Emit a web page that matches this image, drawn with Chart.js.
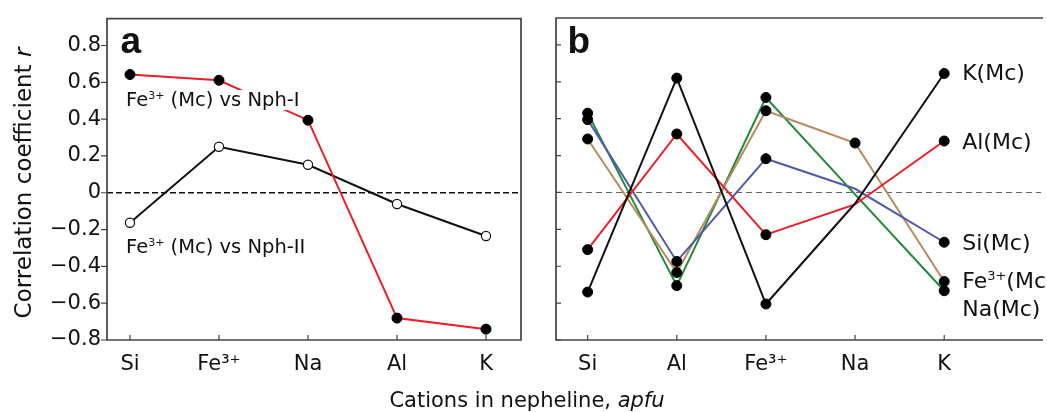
<!DOCTYPE html>
<html>
<head>
<meta charset="utf-8">
<script src="https://cdn.jsdelivr.net/npm/chart.js@4.4.1/dist/chart.umd.min.js"></script>
<style>
  body { margin: 0; background: #fff; }
  #wrap { position: relative; width: 1047px; height: 412px; overflow: hidden; font-family: 'DejaVu Sans', sans-serif; color: #111; }
  #chartA { position: absolute; left: 0; top: 0; }
  #chartB { position: absolute; left: 530px; top: 0; }
  #xTitle { position: absolute; left: 0; width: 1054px; top: 388px; line-height: 24px; text-align: center; font-size: 21px; }
</style>
</head>
<body>
<div id="wrap">
  <canvas id="chartA" width="530" height="412"></canvas>
  <canvas id="chartB" width="517" height="412"></canvas>
  <div id="xTitle">Cations in nepheline, <i>apfu</i></div>
</div>
<script>
Chart.defaults.font.family = "'DejaVu Sans', sans-serif";
Chart.defaults.color = '#111';

// cations along the x axes
const catsA = ['Si', 'Fe³⁺', 'Na', 'Al', 'K'];
const catsB = ['Si', 'Al', 'Fe³⁺', 'Na', 'K'];
const yTicks = [-0.8, -0.6, -0.4, -0.2, 0, 0.2, 0.4, 0.6, 0.8];

// a: Fe3+ (Mc) against the two nepheline generations
const nphI = [0.642, 0.611, 0.394, -0.681, -0.741];
const nphII = [-0.163, 0.250, 0.152, -0.061, -0.235];

// b: microcline cations against nepheline cations
const kMc = [-0.54, 0.62, -0.605, -0.06, 0.645];
const alMc = [-0.31, 0.317, -0.229, -0.065, 0.279];
const siMc = [0.395, -0.374, 0.183, 0.02, -0.27];
const feMc = [0.29, -0.434, 0.443, 0.268, -0.483];
const naMc = [0.43, -0.505, 0.515, -0.01, -0.533];

const FONT = "'DejaVu Sans', sans-serif";

function drawRich(ctx, parts, x, y, size, align) {
  const fontOf = p => (p.it ? 'italic ' : '') + (p.sup ? Math.round(size * 0.58) : size) + 'px ' + FONT;
  let w = 0;
  parts.forEach(p => { ctx.font = fontOf(p); w += ctx.measureText(p.t).width; });
  let cx = align === 'center' ? x - w / 2 : x;
  parts.forEach(p => {
    ctx.font = fontOf(p);
    ctx.fillText(p.t, cx, p.sup ? y - size * 0.36 : y);
    cx += ctx.measureText(p.t).width;
  });
  return w;
}

function measureRich(ctx, parts, size) {
  let w = 0;
  parts.forEach(p => {
    ctx.font = (p.it ? 'italic ' : '') + (p.sup ? Math.round(size * 0.58) : size) + 'px ' + FONT;
    w += ctx.measureText(p.t).width;
  });
  return w;
}

// box, inner/outer ticks and the dashed r = 0 line
function framePlugin(o) {
  return {
    id: 'frame',
    beforeDatasetsDraw(chart) {
      const { ctx, chartArea: a, scales: { x, y } } = chart;
      ctx.save();
      const y0 = y.getPixelForValue(0);
      ctx.strokeStyle = o.zeroColor;
      ctx.lineWidth = o.zeroWidth;
      ctx.setLineDash(o.dash);
      ctx.beginPath();
      ctx.moveTo(a.left, y0);
      ctx.lineTo(a.right, y0);
      ctx.stroke();
      ctx.setLineDash([]);

      ctx.strokeStyle = '#444';
      ctx.lineWidth = 1.7;
      ctx.beginPath();
      if (o.closed) {
        ctx.rect(a.left, a.top, a.right - a.left, a.bottom - a.top);
      } else {
        ctx.moveTo(a.right + 2, a.top);
        ctx.lineTo(a.left, a.top);
        ctx.lineTo(a.left, a.bottom);
        ctx.lineTo(a.right + 2, a.bottom);
      }
      ctx.stroke();

      ctx.lineWidth = 1.2;
      ctx.beginPath();
      y.ticks.forEach(t => {
        const p = y.getPixelForValue(t.value);
        ctx.moveTo(a.left, p);
        ctx.lineTo(a.left + o.yTick, p);
      });
      x.ticks.forEach(t => {
        const p = x.getPixelForValue(t.value);
        ctx.moveTo(p, a.bottom);
        ctx.lineTo(p, a.bottom - 5);
      });
      ctx.stroke();
      ctx.restore();
    }
  };
}

function axes(cats, min, max, yWidth, showY) {
  return {
    x: {
      type: 'linear', min: min, max: max,
      grid: { display: false, drawTicks: false },
      border: { display: false },
      afterBuildTicks: s => { s.ticks = cats.map((c, i) => ({ value: i })); },
      afterFit: s => { s.height = 72; },
      ticks: { padding: 12, font: { size: 21 }, maxRotation: 0, callback: v => cats[v] }
    },
    y: {
      min: -0.8, max: 0.946,
      grid: { display: false, drawTicks: false },
      border: { display: false },
      afterBuildTicks: s => { s.ticks = yTicks.map(v => ({ value: v })); },
      afterFit: s => { s.width = yWidth; },
      ticks: {
        display: showY, padding: 6, font: { size: 21 },
        callback: v => v === 0 ? '0' : v.toFixed(1).replace('-', '\u2212')
      }
    }
  };
}

const common = {
  responsive: false,
  animation: false,
  events: [],
  plugins: { legend: { display: false }, tooltip: { enabled: false } }
};

// ---------- panel a ----------
new Chart(document.getElementById('chartA'), {
  type: 'line',
  data: {
    datasets: [
      {
        data: nphI.map((v, i) => ({ x: i, y: v })),
        borderColor: '#ee1c25', borderWidth: 2,
        pointRadius: 5, pointBackgroundColor: '#000', pointBorderColor: '#000', pointBorderWidth: 1
      },
      {
        data: nphII.map((v, i) => ({ x: i, y: v })),
        borderColor: '#111', borderWidth: 2,
        pointRadius: 4.6, pointBackgroundColor: '#fff', pointBorderColor: '#111', pointBorderWidth: 1.2
      }
    ]
  },
  options: Object.assign({}, common, {
    layout: { padding: { top: 18, right: 9, left: 0, bottom: 0 } },
    scales: axes(catsA, -0.258, 4.393, 107, true)
  }),
  plugins: [
    framePlugin({ closed: true, yTick: -6, zeroColor: '#111', zeroWidth: 1.3, dash: [6, 3] }),
    {
      id: 'textA',
      afterDatasetsDraw(chart) {
        const { ctx, chartArea: a } = chart;
        ctx.save();
        const lbl1 = [{ t: 'Fe' }, { t: '3+', sup: true }, { t: ' (Mc) vs Nph-I' }];
        const lbl2 = [{ t: 'Fe' }, { t: '3+', sup: true }, { t: ' (Mc) vs Nph-II' }];
        [[lbl1, 106], [lbl2, 253]].forEach(([parts, base]) => {
          const w = measureRich(ctx, parts, 19.5);
          ctx.fillStyle = '#fff';
          ctx.fillRect(a.left + 17, base - 16, w + 4, 20);
          ctx.fillStyle = '#111';
          drawRich(ctx, parts, a.left + 19, base, 19.5);
        });
        // panel letter
        ctx.font = 'bold 37px "Liberation Sans", Arial, sans-serif';
        ctx.fillText('a', 120.5, 53);
        // y axis title
        ctx.translate(22, 183);
        ctx.rotate(-Math.PI / 2);
        drawRich(ctx, [{ t: 'Correlation coefficient ' }, { t: 'r', it: true }], 0, 9, 23, 'center');
        ctx.restore();
      }
    }
  ]
});

// ---------- panel b ----------
const seriesB = [kMc, alMc, siMc, feMc, naMc];
const colorsB = ['#111111', '#ee1c25', '#5159ab', '#b88a5c', '#1c8c35'];
const namesB = [
  [{ t: 'K(Mc)' }],
  [{ t: 'Al(Mc)' }],
  [{ t: 'Si(Mc)' }],
  [{ t: 'Fe' }, { t: '3+', sup: true }, { t: '(Mc)' }],
  [{ t: 'Na(Mc)' }]
];
const nameShift = [-2, 0, 0, -2, 17];

const linesB = seriesB.map((s, k) => ({
  data: s.map((v, i) => ({ x: i, y: v })),
  borderColor: colorsB[k], borderWidth: 2, pointRadius: 0, order: 1
}));
// markers sit above every line; the Na column carries a marker only for Fe3+(Mc)
const dotsB = seriesB.map((s, k) => ({
  data: s.map((v, i) => ({ x: i, y: v })),
  showLine: false, order: 0,
  pointRadius: s.map((v, i) => (i === 3 && k !== 3) ? 0 : 5),
  pointBackgroundColor: '#000', pointBorderColor: '#000', pointBorderWidth: 1
}));

new Chart(document.getElementById('chartB'), {
  type: 'line',
  data: { datasets: linesB.concat(dotsB) },
  options: Object.assign({}, common, {
    layout: { padding: { top: 18, right: 0, left: 0, bottom: 0 } },
    scales: axes(catsB, -0.355, 5.086, 26, false)
  }),
  plugins: [
    framePlugin({ closed: false, yTick: 5, zeroColor: '#666', zeroWidth: 1.1, dash: [6, 4] }),
    {
      id: 'textB',
      afterDatasetsDraw(chart) {
        const { ctx, scales: { x, y } } = chart;
        ctx.save();
        ctx.fillStyle = '#111';
        seriesB.forEach((s, k) => {
          const px = x.getPixelForValue(4) + 18;
          const py = y.getPixelForValue(s[4]) + nameShift[k] + 8;
          drawRich(ctx, namesB[k], px, py, 22);
        });
        ctx.font = 'bold 37px "Liberation Sans", Arial, sans-serif';
        ctx.fillText('b', 37.5, 53);
        ctx.restore();
      }
    }
  ]
});
</script>
</body>
</html>
